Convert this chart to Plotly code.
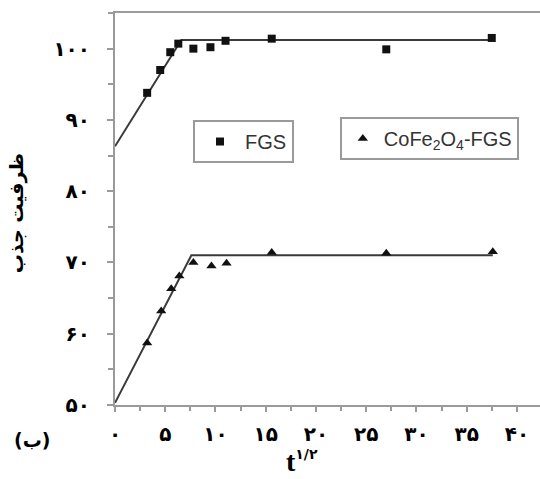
import plotly.graph_objects as go

# ---- data ----
x_fgs = [3.2, 4.5, 5.5, 6.3, 7.8, 9.5, 11.0, 15.6, 27.0, 37.5]
y_fgs = [93.8, 97.0, 99.5, 100.7, 100.0, 100.2, 101.1, 101.4, 99.9, 101.5]
x_co = [3.2, 4.6, 5.6, 6.4, 7.8, 9.6, 11.1, 15.6, 27.0, 37.6]
y_co = [58.7, 63.2, 66.3, 68.1, 70.0, 69.5, 69.9, 71.4, 71.3, 71.5]
fit_fgs_x = [0, 6.6, 37.4]
fit_fgs_y = [86.3, 101.2, 101.2]
fit_co_x = [0, 7.6, 37.6]
fit_co_y = [50.3, 71.0, 71.0]
x_tickvals = [0, 5, 10, 15, 20, 25, 30, 35, 40]
x_ticktext = ["۰", "۵", "۱۰", "۱۵", "۲۰", "۲۵", "۳۰", "۳۵", "۴۰"]
y_tickvals = [50, 60, 70, 80, 90, 100]
y_ticktext = ["۵۰", "۶۰", "۷۰", "۸۰", "۹۰", "۱۰۰"]

line_col = "#3a3a3a"
axis_col = "#9a9a9a"
fa_font = "DejaVu Sans, Noto Sans, sans-serif"

fig = go.Figure()
fig.add_trace(go.Scatter(x=fit_fgs_x, y=fit_fgs_y, mode="lines",
                         line=dict(color=line_col, width=2), showlegend=False))
fig.add_trace(go.Scatter(x=fit_co_x, y=fit_co_y, mode="lines",
                         line=dict(color=line_col, width=2), showlegend=False))
fig.add_trace(go.Scatter(x=x_fgs, y=y_fgs, mode="markers", name="FGS",
                         marker=dict(symbol="square", size=8, color="#111"),
                         legend="legend"))
fig.add_trace(go.Scatter(x=x_co, y=y_co, mode="markers",
                         name="CoFe<sub>2</sub>O<sub>4</sub>-FGS",
                         marker=dict(symbol="triangle-up", size=9, color="#111"),
                         legend="legend2"))

leg_common = dict(bgcolor="white", bordercolor="#9a9a9a", borderwidth=2,
                  font=dict(family="Liberation Sans, Arial, sans-serif", size=20, color="#333"),
                  xanchor="left", yanchor="top")

fig.update_layout(
    width=540, height=479,
    margin=dict(l=115, r=0, t=13, b=74),
    paper_bgcolor="white", plot_bgcolor="white",
    legend=dict(x=0.1835, y=0.727, itemwidth=40, **leg_common),
    legend2=dict(x=0.529, y=0.735, itemwidth=32, **leg_common),
    xaxis=dict(range=[0, 42.3], showgrid=False, zeroline=False,
               showline=True, linecolor=axis_col, linewidth=2, mirror=True,
               ticks="outside", ticklen=5, tickwidth=2, tickcolor=axis_col,
               tickvals=x_tickvals, ticktext=x_ticktext,
               tickfont=dict(family=fa_font, size=20, color="black", weight="bold"),
               ticklabelstandoff=5,
               minor=dict(dtick=2.5, tick0=0, ticks="outside", ticklen=4,
                          tickwidth=2, tickcolor=axis_col)),
    yaxis=dict(range=[50, 105], showgrid=False, zeroline=False,
               showline=True, linecolor=axis_col, linewidth=2,
               ticks="outside", ticklen=6, tickwidth=2, tickcolor=axis_col,
               tickvals=y_tickvals, ticktext=y_ticktext,
               tickfont=dict(family=fa_font, size=20, color="black", weight="bold"),
               ticklabelstandoff=13,
               minor=dict(dtick=5, tick0=0, ticks="outside", ticklen=5,
                          tickwidth=2, tickcolor=axis_col)),
    annotations=[
        dict(text="ظرفیت جذب", xref="paper", yref="paper",
             x=-0.23, y=0.49, textangle=-90, showarrow=False,
             xanchor="center", yanchor="middle",
             font=dict(family=fa_font, size=19, color="black", weight="bold")),
        dict(text="<b>t</b><sup><span style='font-family:DejaVu Sans;font-size:14px'><b>۱/۲</b></span></sup>",
             xref="paper", yref="paper",
             x=0.44, y=-0.145, showarrow=False, xanchor="center", yanchor="middle",
             font=dict(family="Liberation Serif, Times New Roman, serif", size=28, color="black")),
        dict(text="(ب)", xref="paper", yref="paper",
             x=-0.195, y=-0.09, showarrow=False, xanchor="center", yanchor="middle",
             font=dict(family=fa_font, size=19, color="black", weight="bold")),
    ],
)

fig.write_html("out.html")
